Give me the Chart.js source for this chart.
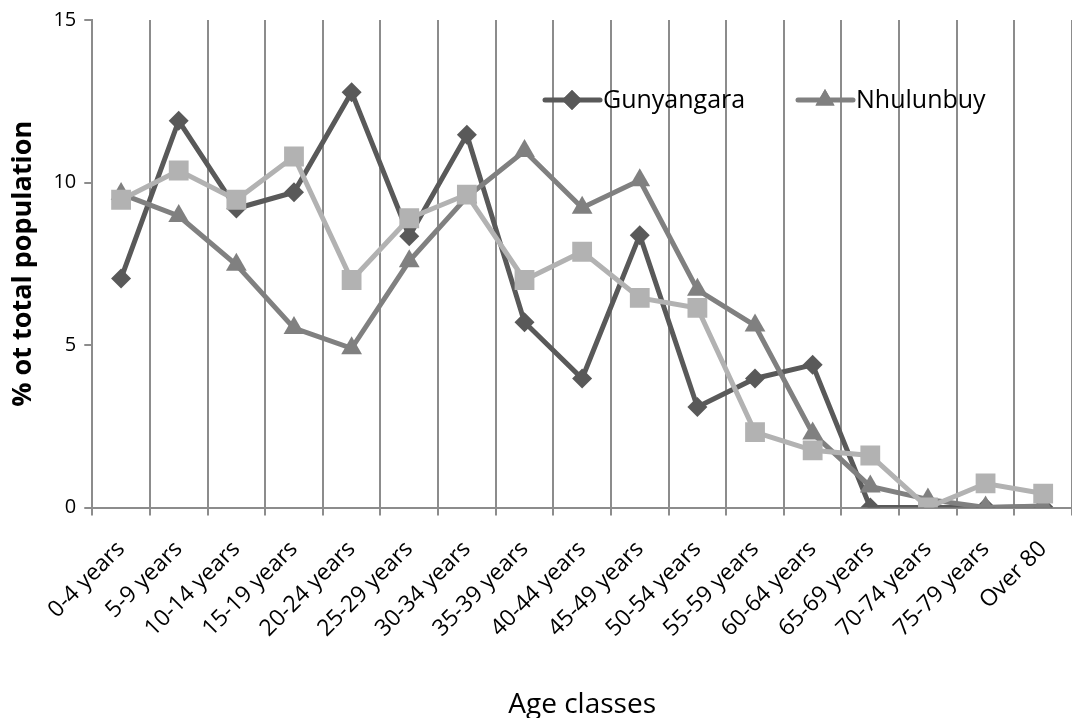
<!DOCTYPE html>
<html>
<head>
<meta charset="utf-8">
<script src="https://cdn.jsdelivr.net/npm/chart.js@4.4.1/dist/chart.umd.min.js"></script>
<style>
  html, body { margin: 0; padding: 0; background: #fff; overflow: hidden; }
  #wrap { width: 1072px; height: 718px; }
</style>
</head>
<body>
<div id="wrap"><canvas id="ageChart" width="1072" height="718"></canvas></div>
<script>
const ageClasses = ['0-4 years', '5-9 years', '10-14 years', '15-19 years', '20-24 years',
    '25-29 years', '30-34 years', '35-39 years', '40-44 years', '45-49 years', '50-54 years',
    '55-59 years', '60-64 years', '65-69 years', '70-74 years', '75-79 years', 'Over 80'];

const gunyangara = [7.05, 11.9, 9.2, 9.7, 12.78, 8.35, 11.47, 5.7, 3.97, 8.38, 3.09, 3.97, 4.39, 0, 0, 0, 0.02];
const nhulunbuy = [9.65, 8.97, 7.47, 5.52, 4.9, 7.58, 9.55, 10.97, 9.22, 10.07, 6.7, 5.6, 2.28, 0.65, 0.25, 0, 0.05];
const thirdSeries = [9.47, 10.37, 9.47, 10.8, 7.0, 8.9, 9.63, 7.0, 7.87, 6.45, 6.14, 2.32, 1.76, 1.6, 0, 0.74, 0.43];

const yTicks = [0, 5, 10, 15];

const darkGrey = '#595959';
const midGrey = '#808080';
const lightGrey = '#b2b2b2';
const gridGrey = '#8c8c8c';
const fontFamily = '"Open Sans", "DejaVu Sans", sans-serif';

// legend drawn inside the plot, like the original
const insideLegend = {
    id: 'insideLegend',
    afterDraw(chart) {
        const ctx = chart.ctx;
        const items = [
            { text: 'Gunyangara', color: darkGrey, style: 'rectRot', radius: 10, x: 545 },
            { text: 'Nhulunbuy', color: midGrey, style: 'triangle', radius: 11, x: 798 }
        ];
        const y = 100;
        ctx.save();
        items.forEach(function (it) {
            ctx.strokeStyle = it.color;
            ctx.lineWidth = 5;
            ctx.lineCap = 'round';
            ctx.beginPath();
            ctx.moveTo(it.x, y);
            ctx.lineTo(it.x + 55, y);
            ctx.stroke();
            ctx.fillStyle = it.color;
            Chart.helpers.drawPoint(ctx, { pointStyle: it.style, radius: it.radius, borderWidth: 0 }, it.x + 27, y);
            ctx.fill();
            ctx.fillStyle = '#000';
            ctx.font = '25px ' + fontFamily;
            ctx.textBaseline = 'middle';
            ctx.textAlign = 'left';
            ctx.fillText(it.text, it.x + 58, y + 1);
        });
        ctx.restore();
    }
};

const ctx = document.getElementById('ageChart').getContext('2d');

new Chart(ctx, {
    type: 'line',
    data: {
        labels: ageClasses,
        datasets: [{
            label: 'Gunyangara',
            data: gunyangara,
            borderColor: darkGrey,
            backgroundColor: darkGrey,
            borderWidth: 5,
            pointStyle: 'rectRot',
            pointRadius: 10,
            pointBorderWidth: 0,
            tension: 0,
            order: 3
        }, {
            label: 'Nhulunbuy',
            data: nhulunbuy,
            borderColor: midGrey,
            backgroundColor: midGrey,
            borderWidth: 5,
            pointStyle: 'triangle',
            pointRadius: 12,
            pointBorderWidth: 0,
            tension: 0,
            order: 2
        }, {
            label: 'Series 3',
            data: thirdSeries,
            borderColor: lightGrey,
            backgroundColor: lightGrey,
            borderWidth: 5,
            pointStyle: 'rect',
            pointRadius: 14,
            pointBorderWidth: 0,
            tension: 0,
            order: 1
        }]
    },
    options: {
        responsive: false,
        animation: false,
        layout: {
            autoPadding: false,
            padding: { top: 15, right: -15, left: 7, bottom: -4 }
        },
        plugins: {
            legend: { display: false },
            tooltip: { enabled: false }
        },
        scales: {
            x: {
                offset: true,
                afterFit(scale) {
                    // the original plot runs a little past the right edge
                    scale.paddingRight = -15;
                },
                grid: {
                    offset: true,
                    color: gridGrey,
                    lineWidth: 2,
                    tickLength: 8,
                    drawOnChartArea: true
                },
                border: { color: gridGrey, width: 2 },
                ticks: {
                    color: '#000',
                    font: { family: fontFamily, size: 23 },
                    minRotation: 45,
                    maxRotation: 45,
                    padding: 20
                },
                title: {
                    display: true,
                    text: 'Age classes',
                    color: '#000',
                    font: { family: fontFamily, size: 28 },
                    padding: { top: 26, bottom: 0 }
                }
            },
            y: {
                min: 0,
                max: 15,
                afterBuildTicks(scale) {
                    scale.ticks = yTicks.map(function (v) { return { value: v }; });
                },
                grid: {
                    drawOnChartArea: false,
                    color: gridGrey,
                    lineWidth: 2,
                    tickLength: 8
                },
                border: { color: gridGrey, width: 2 },
                ticks: {
                    color: '#000',
                    font: { family: fontFamily, size: 20 },
                    padding: 8
                },
                title: {
                    display: true,
                    text: '% ot total population',
                    color: '#000',
                    font: { family: fontFamily, size: 27, weight: 'bold' },
                    padding: { top: 0, bottom: 6 }
                }
            }
        }
    },
    plugins: [insideLegend]
});
</script>
</body>
</html>
